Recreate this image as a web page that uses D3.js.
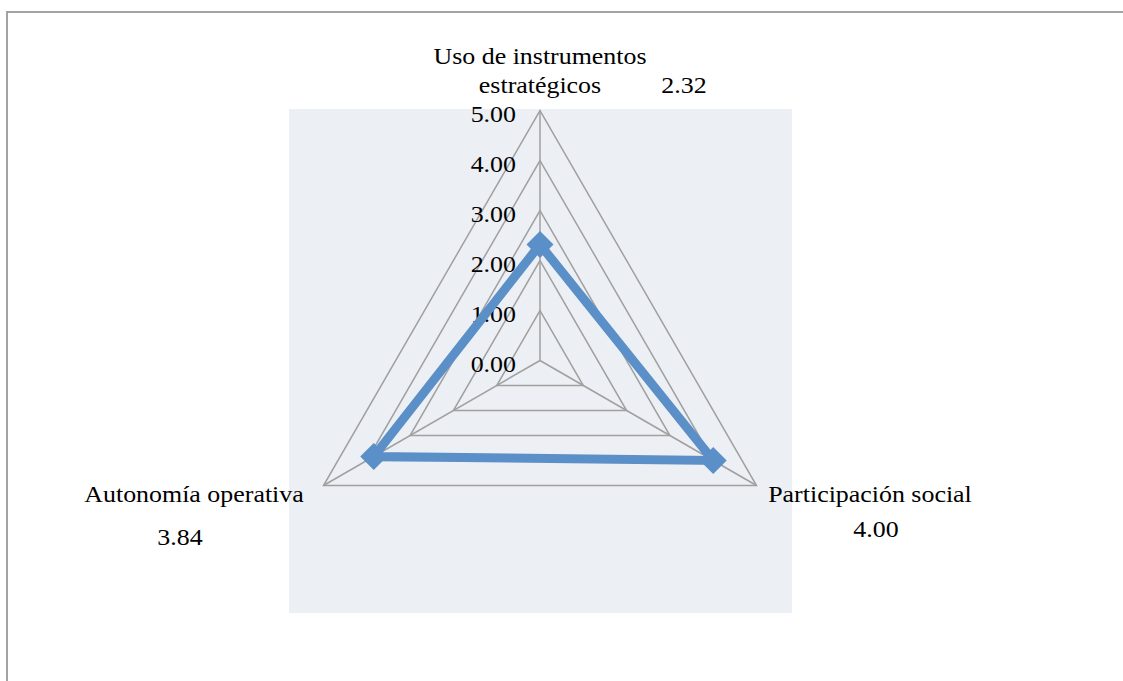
<!DOCTYPE html>
<html>
<head>
<meta charset="utf-8">
<script src="https://cdn.jsdelivr.net/npm/d3@7"></script>
<style>
  html, body { margin: 0; padding: 0; background: #fff; }
  svg { display: block; }
  text { font-family: "Liberation Serif", "Times New Roman", serif; fill: #000; }
</style>
</head>
<body>
<svg id="chart" width="1123" height="681"></svg>
<script>
// Radar chart data
const categories = ["Uso de instrumentos estratégicos", "Participación social", "Autonomía operativa"];
const values = [2.32, 4.00, 3.84];
const tickValues = [0, 1, 2, 3, 4, 5];
const tickLabels = ["0.00", "1.00", "2.00", "3.00", "4.00", "5.00"];

const svg = d3.select("#chart");
const cx = 540, cy = 360.5, R = 250;
const gridColor = "#a0a0a0";
const seriesColor = "#5b8fc8";
const fontSize = 24;
const stretch = 1.08;

// frame around the chart area
svg.append("rect")
  .attr("x", 7).attr("y", 12)
  .attr("width", 1140).attr("height", 700)
  .attr("fill", "none").attr("stroke", "#a3a3a3").attr("stroke-width", 2);

// plot-area background
svg.append("rect")
  .attr("x", 289).attr("y", 109)
  .attr("width", 503).attr("height", 504)
  .attr("fill", "#eceff4");

const r = d3.scaleLinear().domain([0, 5]).range([0, R]);
// angle per category, clockwise from top
const angle = d3.scaleLinear().domain([0, categories.length]).range([-Math.PI / 2, 1.5 * Math.PI]);
const pt = (i, v) => [cx + r(v) * Math.cos(angle(i)), cy + r(v) * Math.sin(angle(i))];

const g = svg.append("g");

// gridline triangles
tickValues.filter(t => t > 0).forEach(t => {
  g.append("path")
    .attr("d", d3.line()(categories.map((c, i) => pt(i, t))) + "Z")
    .attr("fill", "none").attr("stroke", gridColor).attr("stroke-width", 1.5);
});

// spokes
categories.forEach((c, i) => {
  const [x, y] = pt(i, 5);
  g.append("line")
    .attr("x1", cx).attr("y1", cy).attr("x2", x).attr("y2", y)
    .attr("stroke", gridColor).attr("stroke-width", 1.5);
});

// helper for slightly widened serif text
function label(x, y, str, anchor) {
  svg.append("text")
    .attr("transform", `translate(${x},${y}) scale(${stretch},1)`)
    .attr("text-anchor", anchor || "middle")
    .attr("font-size", fontSize)
    .text(str);
}

// radial tick labels
tickValues.forEach((t, k) => {
  label(516, cy - r(t) + 11.5, tickLabels[k], "end");
});

// series polygon
const pts = categories.map((c, i) => pt(i, values[i]));
svg.append("path")
  .attr("d", d3.line()(pts) + "Z")
  .attr("fill", "none").attr("stroke", seriesColor)
  .attr("stroke-width", 9).attr("stroke-linejoin", "miter");

// diamond markers
const s = 13.5;
svg.selectAll(".marker").data(pts).join("path")
  .attr("class", "marker")
  .attr("d", d => `M${d[0]},${d[1] - s}L${d[0] + s},${d[1]}L${d[0]},${d[1] + s}L${d[0] - s},${d[1]}Z`)
  .attr("fill", seriesColor);

// category and value labels
label(540, 64, "Uso de instrumentos");
label(540, 93, "estratégicos");
label(684, 93, values[0].toFixed(2));

label(870, 502, categories[1]);
label(876, 537, values[1].toFixed(2));

label(194, 502, categories[2]);
label(180, 545, values[2].toFixed(2));
</script>
</body>
</html>
